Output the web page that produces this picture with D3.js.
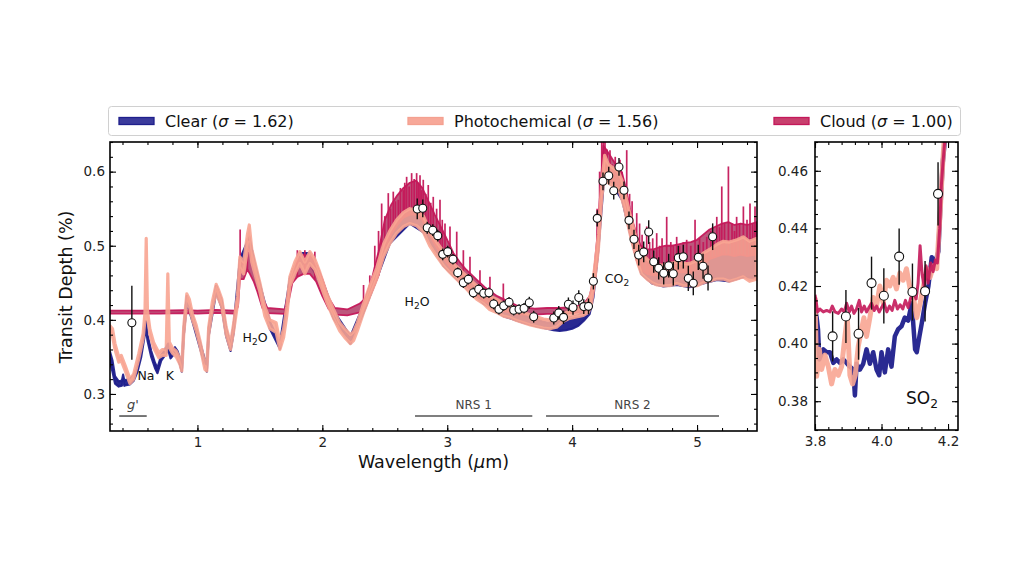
<!DOCTYPE html>
<html><head><meta charset="utf-8">
<script src="https://cdn.jsdelivr.net/npm/d3@7"></script>
<style>body{margin:0;background:#fff}svg text{font-family:"DejaVu Sans",sans-serif}</style>
</head><body><svg id="c" width="1024" height="578"></svg>
<script>
// ---------------- DATA ----------------
const legendNames = ["Clear", "Photochemical", "Cloud"];
const legendSigma = ["1.62", "1.56", "1.00"];

const mainXDomain = [0.3, 5.48];
const mainYDomain = [0.25, 0.64];
const sideXDomain = [3.8, 4.23];
const sideYDomain = [0.37, 0.47];
const mainXTicks = [1, 2, 3, 4, 5];
const mainYTicks = [0.3, 0.4, 0.5, 0.6];
const sideXTicks = [3.8, 4.0, 4.2];
const sideYTicks = [0.38, 0.40, 0.42, 0.44, 0.46];

// model bands: [wavelength (um), low, high] transit depth (%)
const clearModel = [[0.30,0.343,0.357],[0.32,0.330,0.345],[0.34,0.314,0.324],[0.37,0.310,0.317],[0.395,0.311,0.318],[0.405,0.318,0.326],[0.415,0.311,0.318],[0.43,0.312,0.319],[0.46,0.313,0.320],[0.49,0.318,0.325],[0.52,0.330,0.338],[0.55,0.350,0.358],[0.575,0.376,0.385],[0.588,0.390,0.398],[0.60,0.372,0.380],[0.63,0.350,0.358],[0.66,0.335,0.342],[0.68,0.328,0.335],[0.71,0.345,0.352],[0.74,0.352,0.360],[0.765,0.360,0.368],[0.785,0.348,0.356],[0.80,0.351,0.358],[0.82,0.356,0.363],[0.84,0.350,0.358],[0.86,0.340,0.348],[0.875,0.330,0.337],[0.89,0.378,0.388],[0.915,0.423,0.432],[0.96,0.398,0.406],[1.02,0.362,0.370],[1.075,0.330,0.337],[1.09,0.378,0.388],[1.15,0.437,0.446],[1.195,0.416,0.426],[1.23,0.378,0.388],[1.265,0.358,0.366],[1.29,0.383,0.393],[1.34,0.470,0.482],[1.415,0.502,0.512],[1.46,0.462,0.475],[1.50,0.438,0.448],[1.58,0.388,0.398],[1.66,0.361,0.368],[1.74,0.445,0.456],[1.82,0.476,0.490],[1.90,0.476,0.490],[1.98,0.450,0.462],[2.09,0.402,0.412],[2.225,0.368,0.378],[2.33,0.410,0.420],[2.435,0.455,0.468],[2.54,0.503,0.518],[2.70,0.530,0.548],[2.81,0.518,0.538],[2.97,0.473,0.490],[3.13,0.446,0.460],[3.29,0.422,0.436],[3.45,0.405,0.418],[3.61,0.396,0.406],[3.72,0.391,0.400],[3.80,0.388,0.396],[3.85,0.386,0.397],[3.90,0.385,0.398],[3.95,0.386,0.402],[4.00,0.388,0.404],[4.05,0.392,0.406],[4.10,0.400,0.412],[4.14,0.408,0.420],[4.17,0.430,0.445],[4.21,0.495,0.512],[4.26,0.600,0.620],[4.33,0.580,0.602],[4.40,0.562,0.586],[4.45,0.526,0.550],[4.50,0.492,0.516],[4.555,0.462,0.488],[4.64,0.449,0.474],[4.73,0.445,0.472],[4.84,0.447,0.476],[4.94,0.444,0.474],[5.05,0.449,0.488],[5.16,0.454,0.500],[5.26,0.452,0.502],[5.37,0.458,0.510],[5.48,0.456,0.508]];

const photoModel = [[0.30,0.384,0.392],[0.32,0.378,0.388],[0.34,0.360,0.368],[0.37,0.343,0.350],[0.39,0.345,0.352],[0.42,0.332,0.339],[0.46,0.314,0.320],[0.49,0.320,0.327],[0.53,0.347,0.354],[0.565,0.374,0.381],[0.58,0.400,0.410],[0.59,0.500,0.510],[0.60,0.405,0.412],[0.62,0.380,0.387],[0.65,0.362,0.369],[0.69,0.349,0.356],[0.72,0.352,0.360],[0.75,0.352,0.360],[0.763,0.452,0.462],[0.775,0.362,0.370],[0.80,0.355,0.362],[0.83,0.350,0.358],[0.86,0.340,0.348],[0.875,0.331,0.338],[0.89,0.380,0.390],[0.915,0.425,0.435],[0.935,0.418,0.428],[0.96,0.400,0.408],[0.99,0.385,0.393],[1.02,0.365,0.372],[1.06,0.333,0.340],[1.075,0.331,0.338],[1.09,0.380,0.390],[1.12,0.415,0.425],[1.15,0.438,0.448],[1.17,0.428,0.440],[1.195,0.418,0.428],[1.23,0.380,0.390],[1.265,0.360,0.368],[1.29,0.385,0.395],[1.32,0.420,0.432],[1.34,0.470,0.485],[1.37,0.462,0.478],[1.40,0.495,0.515],[1.415,0.505,0.528],[1.435,0.478,0.495],[1.46,0.462,0.478],[1.50,0.438,0.450],[1.54,0.405,0.418],[1.58,0.388,0.400],[1.63,0.383,0.396],[1.66,0.360,0.370],[1.69,0.376,0.388],[1.715,0.405,0.418],[1.74,0.445,0.458],[1.78,0.462,0.478],[1.82,0.476,0.492],[1.86,0.462,0.478],[1.90,0.476,0.492],[1.94,0.468,0.482],[1.98,0.450,0.464],[2.035,0.424,0.436],[2.09,0.402,0.414],[2.14,0.385,0.396],[2.18,0.376,0.388],[2.225,0.368,0.380],[2.25,0.372,0.384],[2.28,0.385,0.396],[2.33,0.410,0.422],[2.38,0.432,0.446],[2.435,0.455,0.470],[2.49,0.485,0.502],[2.54,0.503,0.520],[2.595,0.517,0.535],[2.65,0.526,0.545],[2.70,0.530,0.550],[2.755,0.527,0.548],[2.81,0.518,0.540],[2.86,0.500,0.520],[2.915,0.486,0.505],[2.97,0.473,0.492],[3.02,0.464,0.482],[3.075,0.455,0.472],[3.13,0.446,0.463],[3.18,0.437,0.455],[3.235,0.428,0.446],[3.29,0.422,0.440],[3.34,0.414,0.432],[3.395,0.410,0.428],[3.45,0.405,0.422],[3.50,0.403,0.420],[3.555,0.399,0.414],[3.61,0.396,0.410],[3.665,0.393,0.407],[3.715,0.391,0.404],[3.77,0.389,0.401],[3.82,0.388,0.400],[3.875,0.390,0.402],[3.93,0.398,0.408],[3.98,0.402,0.412],[4.035,0.404,0.416],[4.09,0.406,0.418],[4.13,0.410,0.426],[4.155,0.422,0.438],[4.18,0.452,0.470],[4.21,0.495,0.515],[4.235,0.560,0.580],[4.26,0.600,0.622],[4.29,0.585,0.610],[4.33,0.580,0.605],[4.37,0.577,0.600],[4.40,0.562,0.588],[4.42,0.550,0.574],[4.45,0.526,0.552],[4.475,0.508,0.535],[4.50,0.492,0.518],[4.53,0.474,0.500],[4.555,0.462,0.490],[4.60,0.455,0.482],[4.64,0.450,0.476],[4.68,0.447,0.474],[4.73,0.446,0.474],[4.78,0.446,0.476],[4.84,0.449,0.478],[4.89,0.446,0.476],[4.94,0.446,0.476],[5.00,0.446,0.480],[5.05,0.450,0.490],[5.10,0.452,0.495],[5.16,0.455,0.502],[5.21,0.455,0.506],[5.26,0.452,0.505],[5.32,0.455,0.508],[5.37,0.458,0.512],[5.42,0.452,0.506],[5.48,0.455,0.510]];

const cloudModel = [[0.30,0.4085,0.4125],[0.70,0.4085,0.4125],[0.90,0.409,0.413],[1.00,0.4085,0.4125],[1.15,0.4095,0.4135],[1.30,0.4085,0.4125],[1.325,0.418,0.432],[1.34,0.455,0.480],[1.37,0.455,0.475],[1.40,0.468,0.498],[1.42,0.462,0.492],[1.45,0.452,0.476],[1.48,0.438,0.456],[1.52,0.416,0.430],[1.56,0.409,0.416],[1.70,0.408,0.414],[1.73,0.425,0.440],[1.76,0.450,0.466],[1.80,0.458,0.480],[1.85,0.462,0.488],[1.90,0.462,0.486],[1.95,0.452,0.476],[2.00,0.432,0.455],[2.05,0.415,0.430],[2.10,0.407,0.416],[2.20,0.406,0.414],[2.30,0.410,0.422],[2.35,0.420,0.430],[2.40,0.440,0.458],[2.45,0.460,0.492],[2.50,0.495,0.535],[2.55,0.515,0.555],[2.60,0.528,0.568],[2.65,0.538,0.578],[2.70,0.542,0.585],[2.75,0.542,0.588],[2.80,0.535,0.578],[2.85,0.518,0.560],[2.90,0.502,0.542],[2.95,0.488,0.525],[3.00,0.476,0.508],[3.05,0.465,0.490],[3.10,0.455,0.478],[3.15,0.448,0.468],[3.20,0.440,0.460],[3.25,0.432,0.452],[3.30,0.425,0.444],[3.35,0.420,0.438],[3.40,0.416,0.432],[3.45,0.412,0.428],[3.50,0.410,0.424],[3.55,0.408,0.420],[3.60,0.407,0.417],[3.70,0.407,0.415],[3.80,0.408,0.416],[3.90,0.408,0.416],[4.00,0.409,0.417],[4.05,0.410,0.419],[4.10,0.412,0.423],[4.14,0.418,0.432],[4.17,0.435,0.455],[4.20,0.480,0.510],[4.23,0.545,0.585],[4.25,0.600,0.635],[4.28,0.595,0.628],[4.31,0.588,0.620],[4.34,0.582,0.612],[4.37,0.580,0.608],[4.40,0.568,0.598],[4.43,0.545,0.578],[4.46,0.520,0.552],[4.49,0.498,0.530],[4.52,0.478,0.512],[4.55,0.468,0.500],[4.60,0.462,0.495],[4.65,0.460,0.495],[4.70,0.460,0.498],[4.75,0.462,0.500],[4.80,0.462,0.500],[4.85,0.464,0.502],[4.90,0.464,0.504],[4.95,0.464,0.505],[5.00,0.468,0.508],[5.05,0.475,0.515],[5.10,0.482,0.522],[5.15,0.485,0.526],[5.20,0.488,0.530],[5.25,0.488,0.532],[5.30,0.486,0.528],[5.35,0.488,0.530],[5.40,0.486,0.528],[5.48,0.488,0.532]];

// narrow peaks of the cloud model: [wavelength, top]
const cloudPeaks = [[1.342,0.522],[1.40,0.51],[1.80,0.494],[1.86,0.494],[1.94,0.492],
[2.33,0.447],[2.38,0.46],[2.42,0.50],[2.45,0.52],[2.475,0.557],[2.50,0.54],[2.528,0.571],[2.545,0.55],[2.568,0.573],[2.585,0.56],[2.608,0.562],[2.625,0.578],[2.648,0.575],[2.66,0.585],[2.675,0.593],[2.695,0.58],[2.715,0.598],[2.735,0.59],[2.755,0.598],[2.768,0.585],[2.782,0.595],[2.795,0.575],[2.808,0.589],[2.828,0.57],[2.848,0.582],[2.868,0.558],[2.888,0.566],[2.915,0.55],[2.942,0.562],[2.96,0.535],[2.982,0.53],[3.022,0.526],[3.076,0.519],[3.129,0.494],[3.182,0.485],[3.262,0.467],[3.342,0.458],[3.449,0.449],
[4.20,0.55],[4.22,0.60],[4.237,0.64],[4.25,0.64],[4.263,0.64],[4.28,0.63],[4.303,0.629],[4.32,0.61],[4.345,0.62],[4.383,0.616],[4.40,0.60],[4.437,0.629],[4.46,0.57],[4.48,0.56],[4.517,0.544],[4.54,0.53],[4.56,0.515],[4.597,0.526],[4.62,0.505],[4.645,0.51],[4.677,0.517],[4.70,0.50],[4.72,0.51],[4.757,0.539],[4.79,0.505],[4.81,0.50],[4.837,0.512],[4.86,0.50],[4.89,0.505],[4.917,0.508],[4.95,0.50],[4.984,0.535],[5.02,0.51],[5.05,0.505],[5.078,0.512],[5.11,0.52],[5.135,0.51],[5.158,0.539],[5.18,0.525],[5.198,0.58],[5.22,0.53],[5.251,0.607],[5.28,0.53],[5.30,0.52],[5.317,0.539],[5.34,0.53],[5.371,0.553],[5.40,0.535],[5.424,0.557],[5.445,0.53],[5.464,0.553]];

// zoomed SO2 panel: [wavelength, depth]
const clearSO2 = [[3.80,0.412],[3.805,0.409],[3.809,0.405],[3.813,0.3945],[3.825,0.398],[3.835,0.397],[3.845,0.397],[3.855,0.3933],[3.865,0.3945],[3.875,0.3933],[3.885,0.3945],[3.895,0.3933],[3.905,0.392],[3.915,0.391],[3.92,0.382],[3.925,0.393],[3.935,0.391],[3.945,0.393],[3.955,0.398],[3.965,0.393],[3.975,0.397],[3.985,0.391],[3.993,0.389],[4.0,0.397],[4.01,0.39],[4.02,0.398],[4.03,0.392],[4.04,0.4025],[4.05,0.405],[4.06,0.406],[4.07,0.409],[4.08,0.408],[4.091,0.414],[4.101,0.398],[4.106,0.397],[4.114,0.4025],[4.121,0.407],[4.131,0.414],[4.141,0.42],[4.151,0.43],[4.161,0.428],[4.171,0.432],[4.176,0.445],[4.184,0.4626],[4.19,0.47]];
const photoSO2 = [[3.80,0.416],[3.805,0.3887],[3.813,0.398],[3.82,0.391],[3.83,0.396],[3.84,0.392],[3.85,0.386],[3.86,0.391],[3.87,0.389],[3.88,0.392],[3.89,0.4025],[3.897,0.409],[3.905,0.389],[3.913,0.386],[3.921,0.389],[3.93,0.399],[3.94,0.405],[3.947,0.409],[3.955,0.4025],[3.965,0.409],[3.975,0.416],[3.985,0.413],[3.995,0.42],[4.005,0.414],[4.015,0.422],[4.025,0.42],[4.035,0.423],[4.045,0.419],[4.055,0.4245],[4.065,0.422],[4.075,0.426],[4.086,0.419],[4.096,0.416],[4.106,0.409],[4.116,0.414],[4.126,0.42],[4.136,0.426],[4.146,0.423],[4.156,0.427],[4.166,0.426],[4.176,0.445],[4.184,0.4626],[4.188,0.47]];
const cloudSO2 = [[3.800,0.417],[3.803,0.415],[3.808,0.411],[3.815,0.412],[3.825,0.411],[3.835,0.4115],[3.845,0.411],[3.852,0.413],[3.86,0.411],[3.87,0.4105],[3.88,0.412],[3.888,0.411],[3.895,0.414],[3.903,0.411],[3.91,0.413],[3.917,0.4105],[3.925,0.412],[3.933,0.415],[3.94,0.411],[3.948,0.413],[3.955,0.411],[3.962,0.4125],[3.97,0.414],[3.978,0.4115],[3.985,0.413],[3.993,0.411],[4.0,0.4125],[4.008,0.414],[4.016,0.411],[4.024,0.413],[4.032,0.4115],[4.04,0.415],[4.048,0.412],[4.056,0.4135],[4.064,0.412],[4.072,0.415],[4.08,0.4125],[4.088,0.416],[4.096,0.418],[4.104,0.4155],[4.11,0.421],[4.116,0.434],[4.122,0.424],[4.128,0.42],[4.134,0.427],[4.14,0.421],[4.148,0.428],[4.155,0.425],[4.162,0.429],[4.168,0.428],[4.175,0.44],[4.18,0.455],[4.185,0.463],[4.19,0.47]];

// observations: [wavelength, depth, error]
const observations = [[0.475,0.396,0.05],[2.760,0.5496,0.014],[2.804,0.5505,0.012],[2.840,0.5243,0.008],[2.884,0.521,0.008],[2.924,0.5136,0.008],[2.964,0.4884,0.008],[3.004,0.492,0.008],[3.046,0.4817,0.007],[3.084,0.4637,0.007],[3.129,0.450,0.007],[3.169,0.4547,0.007],[3.209,0.4366,0.007],[3.252,0.4412,0.007],[3.292,0.4358,0.007],[3.334,0.4366,0.007],[3.372,0.4214,0.007],[3.414,0.4142,0.007],[3.452,0.4191,0.007],[3.495,0.4237,0.007],[3.532,0.4129,0.007],[3.575,0.4142,0.007],[3.615,0.4156,0.007],[3.657,0.4231,0.008],[3.692,0.4042,0.008],[3.853,0.4025,0.0087],[3.893,0.4094,0.0092],[3.931,0.4034,0.009],[3.970,0.421,0.0092],[4.007,0.4166,0.0096],[4.053,0.4302,0.0098],[4.093,0.4179,0.0099],[4.131,0.4182,0.0105],[4.170,0.452,0.011],[4.201,0.537,0.011],[4.247,0.587,0.012],[4.293,0.5945,0.012],[4.333,0.5743,0.012],[4.375,0.6063,0.012],[4.415,0.5748,0.012],[4.455,0.5343,0.012],[4.495,0.5087,0.013],[4.533,0.4875,0.014],[4.573,0.4916,0.014],[4.613,0.5185,0.016],[4.653,0.4785,0.015],[4.693,0.4696,0.015],[4.733,0.4628,0.015],[4.773,0.4731,0.016],[4.810,0.4623,0.016],[4.850,0.4839,0.016],[4.890,0.4852,0.016],[4.930,0.456,0.017],[4.970,0.4493,0.016],[5.010,0.4844,0.017],[5.048,0.4723,0.017],[5.088,0.4565,0.017],[5.125,0.5122,0.018]];

// instrument ranges: [label, start, end]
const instruments = [["g'", 0.374, 0.594], ["NRS 1", 2.742, 3.681], ["NRS 2", 3.791, 5.176]];

// ---------------- DRAW ----------------
const colors = {clear:"#1f1f8c", photo:"#f8a592", cloud:"#c4185a"};
const svg = d3.select("#c");
const M = {x0:110, x1:757, y0:142, y1:431};
const S = {x0:815, x1:958, y0:142, y1:430};
const xM = d3.scaleLinear().domain(mainXDomain).range([M.x0, M.x1]);
const yM = d3.scaleLinear().domain(mainYDomain).range([M.y1, M.y0]);
const xS = d3.scaleLinear().domain(sideXDomain).range([S.x0, S.x1]);
const yS = d3.scaleLinear().domain(sideYDomain).range([S.y1, S.y0]);

const defs = svg.append("defs");
defs.append("clipPath").attr("id","cm").append("rect").attr("x",M.x0).attr("y",M.y0).attr("width",M.x1-M.x0).attr("height",M.y1-M.y0);
defs.append("clipPath").attr("id","cs").append("rect").attr("x",S.x0).attr("y",S.y0).attr("width",S.x1-S.x0).attr("height",S.y1-S.y0);

const gm = svg.append("g").attr("clip-path","url(#cm)");
function band(g, data, color, fill, fo, sw, so){
  const area = d3.area().x(d=>xM(d[0])).y0(d=>yM(d[1])).y1(d=>yM(d[2]));
  g.append("path").datum(data).attr("d",area).attr("fill",fill).attr("fill-opacity",fo)
    .attr("stroke",color).attr("stroke-width",sw).attr("stroke-opacity",so).attr("stroke-linejoin","round");
}
band(gm, clearModel, colors.clear, colors.clear, 0.95, 2.2, 0.95);
band(gm, cloudModel, colors.cloud, "#b23a66", 0.85, 1.8, 0.95);
const cloudLoAt = w => {
  const i = d3.bisector(d=>d[0]).left(cloudModel, w);
  const a = cloudModel[Math.max(0,i-1)], b = cloudModel[Math.min(cloudModel.length-1,i)];
  if (a===b) return a[1];
  return a[1] + (b[1]-a[1])*(w-a[0])/(b[0]-a[0]);
};
gm.selectAll("line.pk").data(cloudPeaks).enter().append("line")
  .attr("x1",d=>xM(d[0])).attr("x2",d=>xM(d[0]))
  .attr("y1",d=>yM(cloudLoAt(d[0]))).attr("y2",d=>yM(d[1]))
  .attr("stroke",colors.cloud).attr("stroke-width",1.7).attr("stroke-opacity",0.95);
band(gm, photoModel, colors.photo, colors.photo, 0.88, 3.2, 0.9);

// instrument ranges
const gi = svg.append("g");
instruments.forEach(([lab,a,b])=>{
  gi.append("line").attr("x1",xM(a)).attr("x2",xM(b)).attr("y1",yM(0.2702)).attr("y2",yM(0.2702))
    .attr("stroke","#555").attr("stroke-width",1.6);
  const t = gi.append("text").attr("x",xM((a+b)/2)).attr("y",yM(0.2795)).attr("text-anchor","middle")
    .attr("fill","#444").attr("font-size",lab==="g'"?13:12).text(lab);
  if(lab==="g'") t.attr("font-style","italic");
});

// annotations
function chem(g, x, y, parts, fs, anchor){
  const t = g.append("text").attr("x",x).attr("y",y).attr("text-anchor",anchor||"middle").attr("font-size",fs).attr("fill","#111");
  parts.forEach(p=>{
    if(p[1]) t.append("tspan").attr("font-size",fs*0.72).attr("dy",fs*0.25).text(p[0]);
    else t.append("tspan").attr("dy",p[2]||0).text(p[0]);
  });
  return t;
}
const ga = svg.append("g");
ga.append("text").attr("x",xM(0.588)).attr("y",yM(0.3185)).attr("text-anchor","middle").attr("font-size",12.5).attr("fill","#111").text("Na");
ga.append("text").attr("x",xM(0.78)).attr("y",yM(0.3185)).attr("text-anchor","middle").attr("font-size",12.5).attr("fill","#111").text("K");
chem(ga, xM(1.461), yM(0.3705), [["H"],["2",1],["O",0,-3.1]], 12.5);
chem(ga, xM(2.758), yM(0.4185), [["H"],["2",1],["O",0,-3.1]], 12.5);
chem(ga, xM(4.359), yM(0.4495), [["CO"],["2",1]], 12.5);

// observations (main)
const go = svg.append("g").attr("clip-path","url(#cm)");
go.selectAll("line.e").data(observations).enter().append("line")
  .attr("x1",d=>xM(d[0])).attr("x2",d=>xM(d[0])).attr("y1",d=>yM(d[1]-d[2])).attr("y2",d=>yM(d[1]+d[2]))
  .attr("stroke","#111").attr("stroke-width",1.4);
go.selectAll("circle").data(observations).enter().append("circle")
  .attr("cx",d=>xM(d[0])).attr("cy",d=>yM(d[1])).attr("r",4).attr("fill","#fff").attr("stroke","#111").attr("stroke-width",1.1);

// side panel
const gs = svg.append("g").attr("clip-path","url(#cs)");
const lineS = d3.line().x(d=>xS(d[0])).y(d=>yS(d[1]));
gs.append("path").datum(clearSO2).attr("d",lineS).attr("fill","none").attr("stroke",colors.clear).attr("stroke-width",4.5).attr("stroke-linejoin","round").attr("stroke-opacity",0.95);
gs.append("path").datum(photoSO2).attr("d",lineS).attr("fill","none").attr("stroke",colors.photo).attr("stroke-width",5).attr("stroke-linejoin","round").attr("stroke-opacity",0.9);
gs.append("path").datum(cloudSO2).attr("d",lineS).attr("fill","none").attr("stroke",colors.cloud).attr("stroke-width",3).attr("stroke-linejoin","round").attr("stroke-opacity",0.9);
const obsS = observations.filter(d=>d[0]>=sideXDomain[0] && d[0]<=sideXDomain[1]-0.04);
gs.selectAll("line.e").data(obsS).enter().append("line")
  .attr("x1",d=>xS(d[0])).attr("x2",d=>xS(d[0])).attr("y1",d=>yS(d[1]-d[2])).attr("y2",d=>yS(d[1]+d[2]))
  .attr("stroke","#111").attr("stroke-width",1.4);
gs.selectAll("circle").data(obsS).enter().append("circle")
  .attr("cx",d=>xS(d[0])).attr("cy",d=>yS(d[1])).attr("r",4.5).attr("fill","#fff").attr("stroke","#111").attr("stroke-width",1.1);
chem(svg, 922, 404, [["SO"],["2",1]], 17);

// axes
function axes(P, x, y, xt, yt, xminStep, yminStep, xfmt, yfmt, ypad){
  const g = svg.append("g");
  const xr = x.domain(), yr = y.domain();
  const xmin = d3.range(Math.ceil(xr[0]/xminStep-1e-6)*xminStep, xr[1]+1e-9, xminStep);
  const ymin = d3.range(Math.ceil(yr[0]/yminStep-1e-6)*yminStep, yr[1]+1e-9, yminStep);
  const mk = (axisFn, sc, vals, size, tr, fmt, pad) => {
    const a = axisFn(sc).tickValues(vals).tickSizeInner(-size).tickSizeOuter(0).tickPadding(pad||0)
      .tickFormat(fmt || (()=>""));
    const gg = g.append("g").attr("transform",tr).call(a);
    gg.attr("font-size",13.5).attr("font-family","DejaVu Sans");
    gg.select(".domain").remove();
    gg.selectAll("line").attr("stroke","#000").attr("stroke-width",1.1);
    gg.selectAll("text").attr("fill","#222");
    return gg;
  };
  mk(d3.axisBottom, x, xmin, 3, `translate(0,${P.y1})`);
  mk(d3.axisTop, x, xmin, 3, `translate(0,${P.y0})`);
  mk(d3.axisLeft, y, ymin, 3, `translate(${P.x0},0)`);
  mk(d3.axisRight, y, ymin, 3, `translate(${P.x1},0)`);
  mk(d3.axisBottom, x, xt, 6, `translate(0,${P.y1})`, xfmt, 6);
  mk(d3.axisTop, x, xt, 6, `translate(0,${P.y0})`);
  mk(d3.axisLeft, y, yt, 6, `translate(${P.x0},0)`, yfmt, ypad);
  mk(d3.axisRight, y, yt, 6, `translate(${P.x1},0)`);
  g.append("rect").attr("x",P.x0).attr("y",P.y0).attr("width",P.x1-P.x0).attr("height",P.y1-P.y0)
    .attr("fill","none").attr("stroke","#000").attr("stroke-width",1.6);
}
axes(M, xM, yM, mainXTicks, mainYTicks, 0.2, 0.02, d3.format("d"), d3.format(".1f"), 5);
axes(S, xS, yS, sideXTicks, sideYTicks, 0.04, 0.005, d3.format(".1f"), d3.format(".2f"), 7);

// axis labels
svg.append("text").attr("x",433.5).attr("y",468).attr("text-anchor","middle").attr("font-size",17.5).attr("fill","#111")
  .html('Wavelength (<tspan font-style="italic">μ</tspan>m)');
svg.append("text").attr("transform","translate(72,287) rotate(-90)").attr("text-anchor","middle").attr("font-size",17.5).attr("fill","#111")
  .text("Transit Depth (%)");

// legend
const lg = svg.append("g");
lg.append("rect").attr("x",108.5).attr("y",106.5).attr("width",852).attr("height",29).attr("rx",3)
  .attr("fill","#fff").attr("stroke","#d0d0d0").attr("stroke-width",1);
const legX = [119, 408, 774];
const legFill = [["#3b3b9c","#1f1f8c"],["#f7a899","#f4a090"],["#c8406e","#c4185a"]];
legendNames.forEach((n,i)=>{
  lg.append("rect").attr("x",legX[i]).attr("y",117.5).attr("width",35).attr("height",7)
    .attr("fill",legFill[i][0]).attr("stroke",legFill[i][1]).attr("stroke-width",1.3);
  const t = lg.append("text").attr("x",legX[i]+46).attr("y",126.5).attr("font-size",16).attr("fill","#111");
  t.append("tspan").text(n+" (");
  t.append("tspan").attr("font-style","italic").text("σ");
  t.append("tspan").text(" = "+legendSigma[i]+")");
});
</script></body></html>
